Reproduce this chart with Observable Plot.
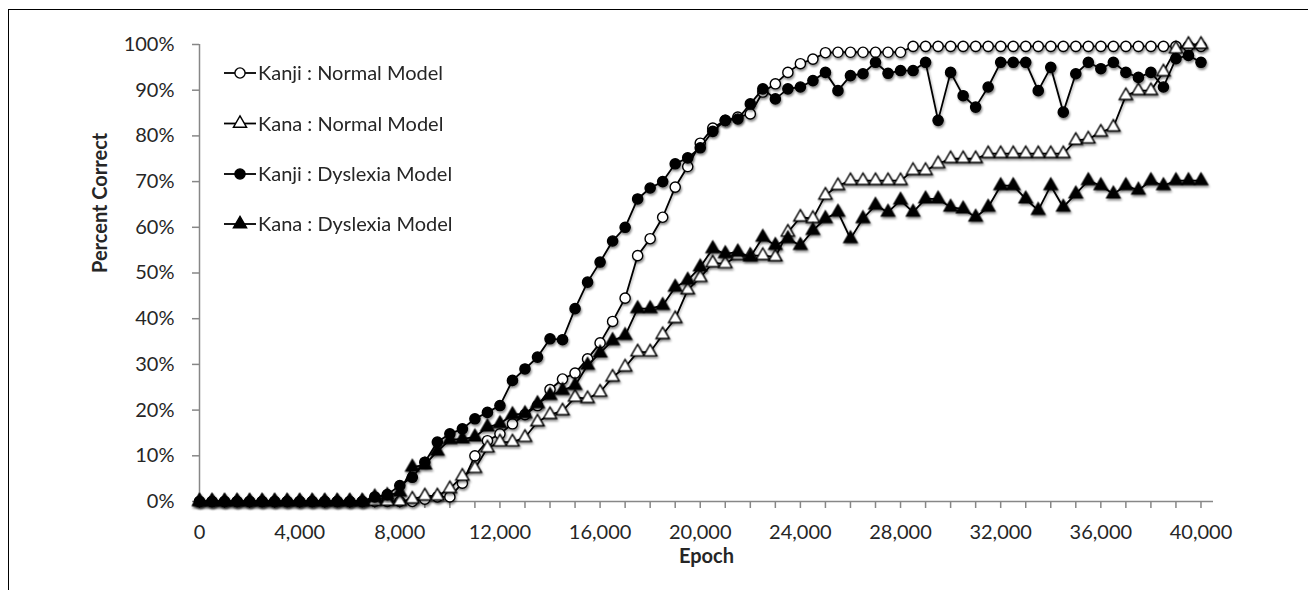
<!DOCTYPE html>
<html><head><meta charset="utf-8">
<script src="https://cdn.jsdelivr.net/npm/d3@7"></script>
<script src="https://cdn.jsdelivr.net/npm/@observablehq/plot@0.6"></script>
<style>
body{margin:0;background:#fff;}
#wrap{position:relative;width:1308px;height:590px;overflow:hidden;font-family:Lato,"Noto Sans",sans-serif;background:#fff;}
#frame{position:absolute;left:8px;top:9px;width:1400px;height:700px;border-left:1.5px solid #000;border-top:1.5px solid #000;pointer-events:none;}
#chart{position:absolute;left:0;top:0;}
#legend{position:absolute;left:215px;top:50px;}
</style></head><body>
<div id="wrap"><div id="chart"></div><svg id="legend" width="320" height="200"></svg><div id="frame"></div></div>
<script>
const epochs = [0,500,1000,1500,2000,2500,3000,3500,4000,4500,5000,5500,6000,6500,7000,7500,8000,8500,9000,9500,
10000,10500,11000,11500,12000,12500,13000,13500,14000,14500,15000,15500,16000,16500,17000,17500,18000,18500,19000,19500,
20000,20500,21000,21500,22000,22500,23000,23500,24000,24500,25000,25500,26000,26500,27000,27500,28000,28500,29000,29500,
30000,30500,31000,31500,32000,32500,33000,33500,34000,34500,35000,35500,36000,36500,37000,37500,38000,38500,39000,39500,40000];

const kanjiNormal = [0,0,0,0,0,0,0,0,0,0,0,0,0,0,0,0,0,0,0.5,1,
1,4,10,13.3,14.8,17,19,21,24.5,26.8,28.1,31.2,34.7,39.4,44.5,53.8,57.5,62.2,68.8,73.3,
78.4,81.7,83.4,84.1,84.8,89.6,91.4,93.9,95.8,96.8,98.2,98.3,98.3,98.3,98.3,98.3,98.3,99.6,99.6,99.6,
99.6,99.6,99.6,99.6,99.6,99.6,99.6,99.6,99.6,99.6,99.6,99.6,99.6,99.6,99.6,99.6,99.6,99.6,99.6,99.6,99.6];

const kanaNormal = [0,0,0,0,0,0,0,0,0,0,0,0,0,0,0,0,0,0.5,1.2,1.2,
2.8,5.5,7.2,11.7,13,13,14,17.4,19,19.8,22.8,22.5,23.9,27.2,29.4,32.7,32.7,36.5,40,46.3,
49,52.2,52,53.8,53.8,53.8,53.5,58.9,62.2,61.9,67,69.1,70.2,70.2,70.2,70.2,70.2,72.4,72.4,73.9,
75,75,75,76.1,76.1,76.1,76.1,76.1,76.1,76.1,79,79.3,80.8,81.9,88.8,89.9,89.9,94,99,100,100];

const kanjiDyslexia = [0,0,0,0,0,0,0,0,0,0,0,0,0,0,1,1.5,3.5,5.3,8.6,13,
14.8,15.9,18.1,19.5,21,26.5,29,31.6,35.6,35.4,42.2,48,52.4,57,60,66.2,68.6,70,73.9,75.2,
77.4,81,83.4,83.7,87,90.3,88.1,90.3,90.7,92.1,93.9,89.9,93.2,93.6,96.1,93.7,94.3,94.3,96.1,83.4,
93.9,88.8,86.3,90.7,96.1,96.1,96.1,89.9,95,85.2,93.6,96.1,94.7,96.1,93.9,92.8,93.9,90.7,96.9,97.6,96.1];

const kanaDyslexia = [0,0,0,0,0,0,0,0,0,0,0,0,0,0,1,1.3,2,7.5,8,11,
13.5,13.7,14.1,16.3,17,19,19.2,21.4,23.2,24.3,25.4,29.8,32.5,35.2,36.3,42.2,42.2,42.9,46.9,48.4,
51.3,55.3,54.2,54.6,53.5,57.8,56,57.5,56,59.3,61.9,63.3,57.5,61.9,64.8,63.3,65.9,63.3,66.2,66.2,
64.4,64,62.2,64.4,69.1,69.1,66.2,63.7,69.1,64.4,67.3,70.2,69.1,67.3,69.1,68.1,70.2,69.1,70.2,70.2,70.2];

const seriesNames = ["Kanji : Normal Model", "Kana : Normal Model", "Kanji : Dyslexia Model", "Kana : Dyslexia Model"];
const seriesValues = [kanjiNormal, kanaNormal, kanjiDyslexia, kanaDyslexia];
const seriesSymbols = ["circle", "triangle", "circle", "triangle"];
const seriesFills = ["white", "white", "black", "black"];

const yTicks = [0,10,20,30,40,50,60,70,80,90,100];
const xMinorTicks = epochs.filter(e => e % 1000 === 0);
const xLabelTicks = [0,4000,8000,12000,16000,20000,24000,28000,32000,36000,40000];

const symR = {circle: 5.1, triangle: 4.9};

const marks = [
  Plot.ruleX([0], {stroke: "#878787", strokeWidth: 1.5}),
  Plot.ruleY([0], {stroke: "#878787", strokeWidth: 1.5}),
  Plot.axisY({ticks: yTicks, tickSize: 7, tickPadding: 18, tickFormat: d => d + "%",
    stroke: "#878787", strokeWidth: 1.5, fill: "#262626", fontSize: 20, label: null}),
  Plot.axisX({ticks: xMinorTicks, tickSize: 7, tickPadding: 16,
    tickFormat: d => xLabelTicks.includes(d) ? d.toLocaleString("en-US") : "",
    stroke: "#878787", strokeWidth: 1.5, fill: "#262626", fontSize: 20, label: null}),
  Plot.text(["Percent Correct"], {text: d => d, frameAnchor: "left", dx: -99, rotate: -90,
    fontWeight: "bold", fontSize: 20, fill: "#262626"}),
  Plot.text(["Epoch"], {text: d => d, frameAnchor: "bottom", dy: 61,
    fontWeight: "bold", fontSize: 20, fill: "#262626"})
];

seriesNames.forEach((name, s) => {
  const rows = epochs.map((e, i) => ({epoch: e, value: seriesValues[s][i]}));
  marks.push(Plot.line(rows, {x: "epoch", y: "value", stroke: "black", strokeWidth: 1.8}));
  marks.push(Plot.dot(rows, {x: "epoch", y: "value", symbol: seriesSymbols[s], r: symR[seriesSymbols[s]],
    fill: seriesFills[s], stroke: "black", strokeWidth: 1.4}));
});

const chart = Plot.plot({
  width: 1308, height: 590,
  marginLeft: 199, marginRight: 95, marginTop: 44, marginBottom: 89,
  x: {domain: [0, 40500]},
  y: {domain: [0, 100]},
  style: {fontFamily: "Lato, 'Noto Sans', sans-serif", fontSize: "20px", color: "#262626", background: "white", overflow: "visible"},
  marks
});
chart.querySelectorAll('g[aria-label="dot"]').forEach(g => g.style.filter = "drop-shadow(1.5px 2px 1.2px rgba(0,0,0,0.45))");
chart.querySelectorAll('g[aria-label="line"]').forEach(g => g.style.filter = "drop-shadow(1px 1.5px 1px rgba(0,0,0,0.3))");
document.getElementById("chart").appendChild(chart);

// legend
const leg = d3.select("#legend");
const rowY = [23, 73.5, 124, 174];
seriesNames.forEach((name, s) => {
  const g = leg.append("g").attr("transform", `translate(0,${rowY[s]})`);
  g.append("line").attr("x1", 9).attr("x2", 41).attr("y1", 0).attr("y2", 0)
    .attr("stroke", "black").attr("stroke-width", 1.8);
  const r = symR[seriesSymbols[s]];
  g.append("path")
    .attr("d", d3.symbol(seriesSymbols[s] === "circle" ? d3.symbolCircle : d3.symbolTriangle, Math.PI * r * r)())
    .attr("transform", "translate(25,0)")
    .attr("fill", seriesFills[s]).attr("stroke", "black").attr("stroke-width", 1.4);
  g.append("text").attr("x", 43).attr("y", 0).attr("dy", "0.35em")
    .attr("font-family", "Lato, 'Noto Sans', sans-serif").attr("font-size", 20).attr("fill", "#262626")
    .text(name);
});
</script>
</body></html>
